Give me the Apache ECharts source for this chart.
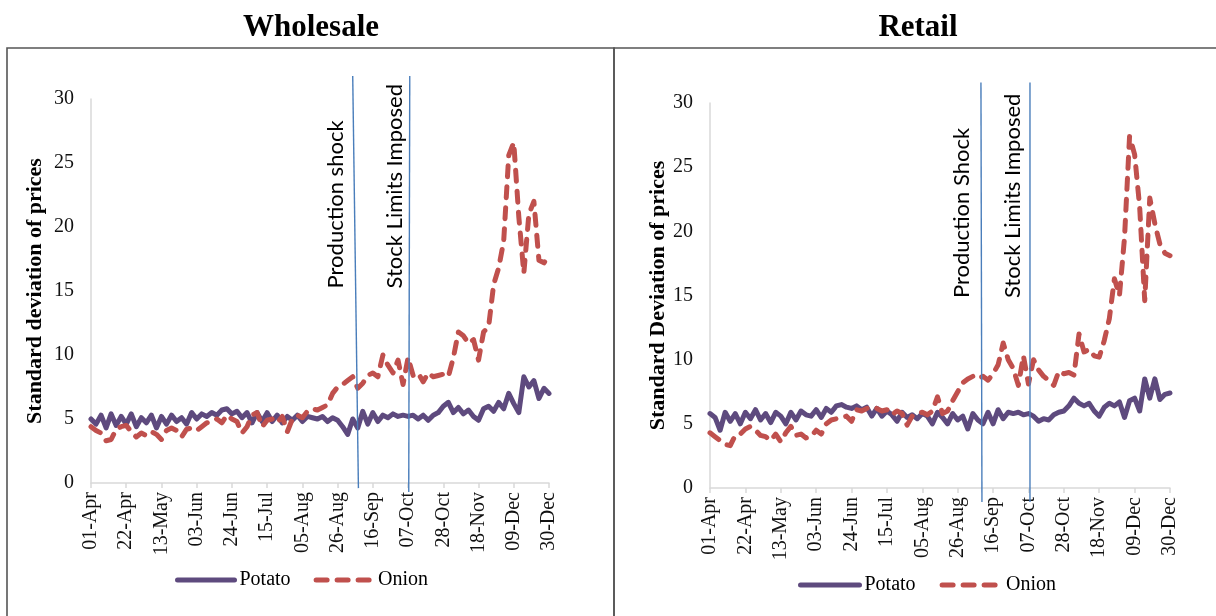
<!DOCTYPE html>
<html><head><meta charset="utf-8">
<script src="https://cdn.jsdelivr.net/npm/echarts@6/dist/echarts.min.js"></script>
<style>html,body{margin:0;padding:0;background:#fff}#c{width:1216px;height:616px}</style>
</head><body><div id="c"></div>
<script>
const tickLabels = ['01-Apr','22-Apr','13-May','03-Jun','24-Jun','15-Jul','05-Aug','26-Aug','16-Sep','07-Oct','28-Oct','18-Nov','09-Dec','30-Dec'];
const dayStep = 3;
const seriesNames = ['Potato', 'Onion'];
const panelTitles = ['Wholesale', 'Retail'];
const yAxisNames = ['Standard deviation of prices', 'Standard Deviation of prices'];
const eventLabels = [['Production shock', 'Stock Limits Imposed'], ['Production Shock', 'Stock Limits Imposed']];
// event dates (day index from 01-Apr): [day at top of marker, day at bottom of marker]
const wholesaleEvents = [[156, 159.4], [190, 189.4]];
const retailEvents = [[160.8, 161.4], [189.9, 189.9]];

const wholesalePotato = [
5.0,4.6,5.3,4.3,5.4,4.5,5.2,4.6,5.4,4.4,
5.1,4.7,5.3,4.3,5.2,4.6,5.3,4.8,5.1,4.6,
5.5,5.0,5.4,5.2,5.5,5.3,5.7,5.8,5.4,5.6,
5.1,5.5,4.7,5.5,4.8,5.5,4.8,5.3,4.7,5.2,
4.9,5.3,4.8,5.2,5.1,5.0,5.2,4.8,5.1,4.9,
4.4,3.8,5.0,4.3,5.6,4.6,5.5,4.8,5.3,5.1,
5.4,5.2,5.3,5.2,5.3,5.0,5.3,4.9,5.3,5.5,
6.0,6.3,5.5,5.9,5.4,5.7,5.2,4.9,5.8,6.0,
5.6,6.3,5.8,7.0,6.2,5.5,8.3,7.5,8.0,6.6,
7.4,7.0];
const wholesaleOnion = [
4.4,4.1,3.9,3.3,3.4,4.2,4.4,4.5,4.0,3.6,
3.9,3.7,4.0,3.8,3.4,4.1,4.3,4.1,3.6,4.2,
4.3,4.1,4.4,4.7,4.8,5.0,4.7,5.3,5.0,4.8,
3.9,4.4,5.3,5.5,4.4,4.9,5.0,4.7,5.2,4.0,
5.0,5.3,5.1,5.6,5.8,5.7,5.9,6.1,7.0,7.5,
7.7,8.0,8.3,7.4,7.8,8.4,8.6,8.3,10.0,9.2,
8.6,9.6,7.7,9.8,8.4,8.6,7.9,8.6,8.3,8.4,
8.5,8.3,9.8,11.8,11.5,10.9,11.2,9.6,11.8,12.2,
15.5,16.8,18.9,25.6,26.6,20.8,16.4,21.0,22.0,17.4,
17.2,17.8];
const retailPotato = [
5.8,5.5,4.5,5.9,5.2,5.8,5.0,5.9,5.4,6.1,
5.3,5.8,5.1,5.9,5.6,5.0,5.9,5.3,6.0,5.7,
5.6,6.1,5.5,6.2,5.9,6.4,6.5,6.3,6.2,6.4,
6.1,6.3,5.6,6.2,5.6,6.0,5.7,5.2,5.9,5.5,
5.7,5.4,5.8,5.6,5.0,5.9,5.5,5.0,5.8,5.3,
5.6,4.6,5.8,5.3,5.0,5.9,5.0,6.1,5.4,5.9,
5.8,5.9,5.7,5.8,5.6,5.2,5.4,5.3,5.7,5.9,
6.0,6.4,7.0,6.6,6.4,6.6,6.0,5.6,6.3,6.6,
6.4,6.7,5.5,6.8,7.0,6.0,8.5,7.0,8.5,6.9,
7.3,7.4];
const retailOnion = [
4.3,4.0,3.7,3.4,3.3,4.1,4.2,4.6,4.8,4.5,
4.1,4.0,3.7,4.2,3.6,4.3,4.8,4.1,4.2,3.9,
4.0,4.5,4.2,5.0,5.3,5.4,5.5,5.6,5.2,6.1,
6.0,6.2,6.3,6.2,6.0,6.1,5.7,6.0,5.8,4.9,
5.6,5.8,5.9,5.7,6.0,7.1,5.8,6.0,6.8,7.5,
8.2,8.5,8.7,8.5,8.7,8.4,8.9,9.6,11.3,10.0,
9.3,8.0,10.3,8.1,10.0,9.2,8.7,8.4,8.0,9.1,
8.9,9.0,8.8,12.0,10.6,10.8,10.3,10.2,11.5,13.2,
16.3,15.0,19.5,27.4,26.0,21.9,14.6,22.6,20.6,19.0,
18.3,18.1];

// ---- chart ----
const serif = '"Liberation Serif","Times New Roman",serif';
const colors = ['#5E4A7E', '#C0504D'];
const toPairs = vals => vals.map((v, i) => [i * dayStep, v]);
const panelData = [[wholesalePotato, wholesaleOnion], [retailPotato, retailOnion]];
const panelEvents = [wholesaleEvents, retailEvents];
const grids = [
  {left: 91, top: 99, width: 458, height: 384},
  {left: 710, top: 103, width: 460, height: 385}
];
const nameGaps = [45, 35];
const lineTops = [31.8, 31.6];
const lineBottoms = [[-0.4, -0.7], [-1.1, -1.1]];
const labelAnchors = [[[145.9, 15.2], [181.1, 15.2]], [[149.6, 14.8], [179.8, 14.8]]];

const xAxes = [], yAxes = [], series = [];
grids.forEach((g, gi) => {
  xAxes.push({
    gridIndex: gi, type: 'value', min: 0, max: 273, interval: 21,
    axisLine: {show: true, lineStyle: {color: '#d9d9d9', width: 1.5}},
    axisTick: {show: true, length: 5, lineStyle: {color: '#d9d9d9', width: 1.5}},
    splitLine: {show: false},
    axisLabel: {rotate: 90, margin: 9, fontFamily: serif, fontSize: 20, color: '#111',
      formatter: v => tickLabels[Math.round(v / 21)] || ''}
  });
  yAxes.push({
    gridIndex: gi, type: 'value', min: 0, max: 30, interval: 5,
    axisLine: {show: true, lineStyle: {color: '#d9d9d9', width: 1.5}},
    axisTick: {show: false}, splitLine: {show: false},
    axisLabel: {margin: 17, fontFamily: serif, fontSize: 20, color: '#111'},
    name: yAxisNames[gi], nameLocation: 'middle', nameGap: nameGaps[gi],
    nameTextStyle: {fontFamily: serif, fontWeight: 'bold', fontSize: 22, color: '#000'}
  });
  panelData[gi].forEach((vals, si) => {
    series.push({
      name: seriesNames[si], type: 'line', xAxisIndex: gi, yAxisIndex: gi,
      data: toPairs(vals), symbol: 'none', showSymbol: false, z: 2 + si,
      lineStyle: {color: colors[si], width: 5,
        type: si === 1 ? [11, 10] : 'solid', cap: 'round', join: 'round'},
      emphasis: {disabled: true},
      itemStyle: {color: colors[si]}
    });
  });
  panelEvents[gi].forEach((ev, ei) => {
    series.push({
      name: 'event' + gi + ei, type: 'line', xAxisIndex: gi, yAxisIndex: gi, clip: false,
      data: [[ev[0], lineTops[gi]], [ev[1], lineBottoms[gi][ei]]],
      symbol: 'none', silent: true, z: 5,
      lineStyle: {color: '#4A7EBB', width: 1.4}
    });
  });
});

const chart = echarts.init(document.getElementById('c'));
chart.setOption({
  animation: false,
  grid: grids.map(g => Object.assign({containLabel: false, outerBoundsMode: 'none'}, g)),
  xAxis: xAxes, yAxis: yAxes, series: series,
  legend: [
    {data: seriesNames, left: 175, top: 570, padding: 0, itemWidth: 57, itemHeight: 14, itemGap: 23,
     itemStyle: {opacity: 0}, lineStyle: {width: 5},
     textStyle: {fontFamily: serif, fontSize: 20, color: '#000'}},
    {data: seriesNames, left: 798, top: 575, padding: 0, itemWidth: 59, itemHeight: 14, itemGap: 24,
     itemStyle: {opacity: 0}, lineStyle: {width: 5},
     textStyle: {fontFamily: serif, fontSize: 20, color: '#000'}}
  ]
});

const graphics = [
  {type: 'rect', shape: {x: 7, y: 48, width: 607, height: 600}, style: {fill: 'none', stroke: '#555', lineWidth: 1.6}, silent: true},
  {type: 'rect', shape: {x: 614, y: 48, width: 620, height: 600}, style: {fill: 'none', stroke: '#555', lineWidth: 1.6}, silent: true},
  {type: 'text', x: 311, y: 28, silent: true, style: {text: panelTitles[0], font: 'bold 31px ' + serif, fill: '#000', textAlign: 'center', textVerticalAlign: 'middle', align: 'center', verticalAlign: 'middle'}},
  {type: 'text', x: 918, y: 28, silent: true, style: {text: panelTitles[1], font: 'bold 31px ' + serif, fill: '#000', textAlign: 'center', textVerticalAlign: 'middle', align: 'center', verticalAlign: 'middle'}}
];
labelAnchors.forEach((anchors, gi) => {
  anchors.forEach((a, ei) => {
    const p = chart.convertToPixel({gridIndex: gi}, a);
    graphics.push({type: 'text', x: p[0], y: p[1], rotation: Math.PI / 2, silent: true,
      style: {text: eventLabels[gi][ei], font: '22px Lato, "Open Sans", sans-serif', fill: '#000',
        textAlign: 'left', textVerticalAlign: 'middle', align: 'left', verticalAlign: 'middle'}});
  });
});
chart.setOption({graphic: graphics});
</script>
</body></html>
